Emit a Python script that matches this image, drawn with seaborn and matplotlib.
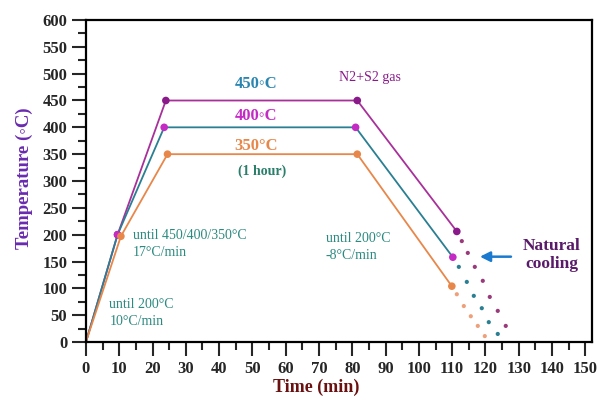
import matplotlib
matplotlib.use("Agg")
import matplotlib.pyplot as plt
import seaborn as sns
import pandas as pd
from matplotlib.ticker import MultipleLocator

# heating / holding / cooling profiles
time_450 = [0, 9.5, 24, 81.5, 111.4]
temp_450 = [0, 200, 450, 450, 206]
time_400 = [0, 9.5, 23.5, 81, 110.2]
temp_400 = [0, 200, 400, 400, 158]
time_350 = [0, 10.5, 24.5, 81.5, 109.9]
temp_350 = [0, 197, 350, 350, 104]

# natural cooling dots
cool_t_450 = [112.9, 114.7, 116.8, 119.2, 121.3, 123.7, 126.1]
cool_y_450 = [188, 166, 140, 114, 84, 58, 30]
cool_t_400 = [112.0, 114.4, 116.5, 118.9, 121.0, 123.7]
cool_y_400 = [140, 112, 86, 63, 37, 15]
cool_t_350 = [111.4, 113.5, 115.6, 117.7, 119.8]
cool_y_350 = [89, 67, 48, 30, 11]

sns.set_style("ticks")
plt.rcParams['font.family'] = ['Liberation Serif', 'DejaVu Serif']

fig = plt.figure(figsize=(6.01, 4.0), dpi=100)
ax = fig.add_axes([0.143, 0.145, 0.842, 0.805])

c450, m450 = '#a8309a', '#8a1a8a'
c400, m400 = '#2a7f92', '#c42ac4'
c350, m350 = '#e8874a', '#e8874a'

profiles = [
    (time_450, temp_450, c450, m450),
    (time_400, temp_400, c400, m400),
    (time_350, temp_350, c350, m350),
]
for t, y, lc, mc in profiles:
    df = pd.DataFrame({'t': t, 'y': y})
    sns.lineplot(data=df, x='t', y='y', color=lc, lw=1.3, ax=ax)
    sns.scatterplot(data=df.iloc[1:], x='t', y='y', color=mc, s=30,
                    edgecolor='none', ax=ax, zorder=3)

dots = [
    (cool_t_450, cool_y_450, '#9a3a7a'),
    (cool_t_400, cool_y_400, '#2a7f92'),
    (cool_t_350, cool_y_350, '#eda07a'),
]
for t, y, c in dots:
    sns.scatterplot(x=t, y=y, color=c, s=9, edgecolor='none', ax=ax)

ax.set_xlim(0, 152)
ax.set_ylim(0, 600)
ax.xaxis.set_major_locator(MultipleLocator(10))
ax.xaxis.set_minor_locator(MultipleLocator(5))
ax.yaxis.set_major_locator(MultipleLocator(50))
ax.yaxis.set_minor_locator(MultipleLocator(25))
ax.tick_params(which='major', length=10, width=1.5, labelsize=12)
ax.tick_params(which='minor', length=6, width=1.5)
for lab in ax.get_xticklabels() + ax.get_yticklabels():
    lab.set_fontweight('bold')
for s in ax.spines.values():
    s.set_linewidth(1.6)
    s.set_color('black')

ax.set_xlabel('Time (min)', fontsize=13, fontweight='bold', color='#6b1010')
ax.set_ylabel('Temperature (◦C)', fontsize=13.5, fontweight='bold', color='#6a2ab0')
ax.xaxis.set_label_coords(0.455, -0.115)
ax.yaxis.set_label_coords(-0.105, 0.51)

ax.text(51, 480, '450◦C', color='#2a86b0', fontsize=12, fontweight='bold', ha='center', va='center')
ax.text(51, 421, '400◦C', color='#c42ac4', fontsize=12, fontweight='bold', ha='center', va='center')
ax.text(51, 366, '350°C', color='#e8874a', fontsize=12, fontweight='bold', ha='center', va='center')
ax.text(53, 319, '(1 hour)', color='#2a7f6a', fontsize=10, fontweight='bold', ha='center', va='center')
ax.text(76, 492, 'N2+S2 gas', color='#8a1a8a', fontsize=10, ha='left', va='center')
ax.text(14, 182, 'until 450/400/350°C\n17°C/min', color='#2a8a80', fontsize=10,
        ha='left', va='center', linespacing=1.4)
ax.text(7, 54, 'until 200°C\n10°C/min', color='#2a8a80', fontsize=10,
        ha='left', va='center', linespacing=1.4)
ax.text(72, 177, 'until 200°C\n-8°C/min', color='#2a8a80', fontsize=10,
        ha='left', va='center', linespacing=1.4)
ax.text(140, 162, 'Natural\ncooling', color='#5a1a6a', fontsize=12.5, fontweight='bold',
        ha='center', va='center', linespacing=1.2)
ax.annotate('', xy=(117.5, 159), xytext=(128.5, 159),
            arrowprops=dict(arrowstyle='-|>', color='#1a7ad0', lw=1.8, mutation_scale=15))

fig.savefig('out.png', dpi=100)
